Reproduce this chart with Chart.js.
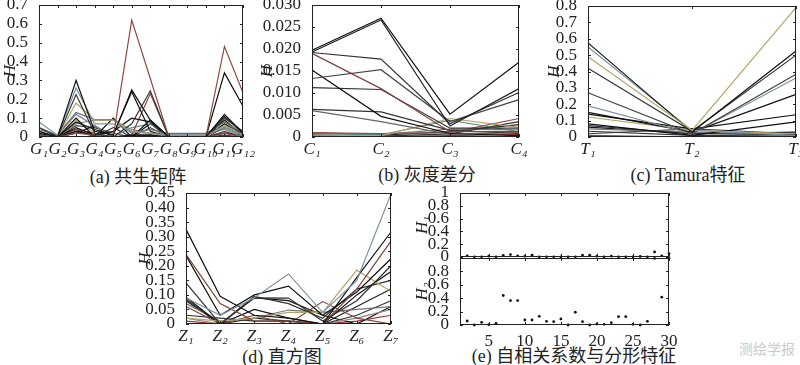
<!DOCTYPE html>
<html><head><meta charset="utf-8">
<script src="https://cdn.jsdelivr.net/npm/chart.js@4.4.1/dist/chart.umd.min.js"></script>
<style>
html,body{margin:0;padding:0;background:#fff}
body{width:800px;height:365px;overflow:hidden;position:relative}
canvas{position:absolute}
.cap{position:absolute;font-size:18px;font-family:"Liberation Serif","Noto Sans CJK SC",serif;color:#222;white-space:nowrap;transform:translate(-50%,-50%)}
.wm{position:absolute;left:739px;top:338px;font-size:14px;font-family:"Noto Sans CJK SC",sans-serif;color:#c9c9c9;white-space:nowrap}
</style></head>
<body>
<div class="cap" style="left:138px;top:175px">(a) 共生矩阵</div>
<div class="cap" style="left:427px;top:173px">(b) 灰度差分</div>
<div class="cap" style="left:688px;top:173px">(c) Tamura特征</div>
<div class="cap" style="left:282px;top:355px">(d) 直方图</div>
<div class="cap" style="left:574px;top:354px">(e) 自相关系数与分形特征</div>
<div class="wm">测绘学报</div>
<script>
// ---------- categories & tick labels ----------
const catsA = ['G₁','G₂','G₃','G₄','G₅','G₆','G₇','G₈','G₉','G₁₀','G₁₁','G₁₂'];
const catsB = ['C₁','C₂','C₃','C₄'];
const catsC = ['T₁','T₂','T₃'];
const catsD = ['Z₁','Z₂','Z₃','Z₄','Z₅','Z₆','Z₇'];
const yTicksA = [0,0.1,0.2,0.3,0.4,0.5,0.6,0.7];
const yLabelsA = ['0','0.1','0.2','0.3','0.4','0.5','0.6','0.7'];
const yTicksB = [0,0.005,0.010,0.015,0.020,0.025,0.030];
const yLabelsB = ['0','0.005','0.010','0.015','0.020','0.025','0.030'];
const yTicksC = [0,0.1,0.2,0.3,0.4,0.5,0.6,0.7,0.8];
const yLabelsC = ['0','0.1','0.2','0.3','0.4','0.5','0.6','0.7','0.8'];
const yTicksD = [0,0.05,0.10,0.15,0.20,0.25,0.30,0.35,0.40,0.45];
const yLabelsD = ['0','0.05','0.10','0.15','0.20','0.25','0.30','0.35','0.40','0.45'];
const yTicksE1 = [0,0.2,0.4,0.6,0.8,1];
const yLabelsE1 = ['0','0.2','0.4','0.6','0.8','1'];
const yTicksE2 = [0,0.2,0.4,0.6,0.8,1];
const yLabelsE2 = ['0','0.2','0.4','0.6','0.8',''];
const xTicksE = [5,10,15,20,25,30];
const xLabelsE = ['5','10','15','20','25','30'];

// ---------- (a) co-occurrence matrix ----------
const seriesA = [
  [0.01,0.0,0.02,0.01,0.0,0.62,0.31,0.0,0.0,0.0,0.48,0.235],
  [0.02,0.0,0.03,0.01,0.0,0.01,0.01,0.0,0.0,0.0,0.34,0.163],
  [0.03,0.0,0.30,0.03,0.01,0.25,0.09,0.0,0.0,0.0,0.12,0.02],
  [0.08,0.01,0.26,0.07,0.07,0.03,0.02,0.01,0.01,0.01,0.05,0.01],
  [0.05,0.0,0.225,0.02,0.0,0.07,0.245,0.0,0.0,0.0,0.10,0.03],
  [0.02,0.0,0.18,0.09,0.09,0.03,0.02,0.0,0.0,0.0,0.06,0.01],
  [0.04,0.01,0.13,0.092,0.092,0.02,0.04,0.018,0.018,0.018,0.08,0.02],
  [0.01,0.0,0.10,0.0,0.10,0.0,0.09,0.0,0.0,0.0,0.09,0.01],
  [0.02,0.0,0.08,0.04,0.01,0.24,0.03,0.0,0.0,0.0,0.05,0.01],
  [0.03,0.0,0.07,0.09,0.09,0.04,0.02,0.02,0.02,0.02,0.04,0.0],
  [0.01,0.0,0.05,0.01,0.03,0.10,0.08,0.0,0.0,0.0,0.11,0.02],
  [0.0,0.0,0.04,0.02,0.0,0.01,0.23,0.0,0.0,0.0,0.02,0.0],
  [0.01,0.0,0.03,0.01,0.0,0.01,0.01,0.0,0.0,0.0,0.01,0.0],
  [0.05,0.01,0.12,0.06,0.0,0.05,0.07,0.01,0.01,0.01,0.06,0.02],
  [0.0,0.0,0.02,0.06,0.0,0.0,0.07,0.0,0.0,0.0,0.07,0.01],
  [0.01,0.0,0.09,0.02,0.0,0.01,0.02,0.01,0.0,0.0,0.06,0.02],
  [0.02,0.01,0.04,0.0,0.05,0.0,0.01,0.0,0.0,0.0,0.02,0.01],
  [0.01,0.0,0.06,0.05,0.02,0.0,0.05,0.0,0.0,0.0,0.03,0.0]
];
const colorsA = ['#8c4a3e','#111','#111','#7c93a3','#333','#b5a46a','#666','#111','#111','#888','#111','#7d4636','#7a2a2a','#6f8a9a','#111','#c8b060','#222','#444'];

// ---------- (b) grey-level difference ----------
const seriesB = [
  [0.0197,0.0270,0.0052,0.0170],
  [0.0193,0.0266,0.0025,0.0110],
  [0.0192,0.0177,0.0030,0.0101],
  [0.0133,0.0153,0.0035,0.0085],
  [0.0190,0.0110,0.0012,0.0012],
  [0.0152,0.0047,0.0008,0.0003],
  [0.0112,0.0108,0.0020,0.0020],
  [0.0063,0.0057,0.0015,0.0008],
  [0.0060,0.0035,0.0006,0.0010],
  [0.0004,0.0003,0.0042,0.0022],
  [0.0008,0.0005,0.0038,0.0012],
  [0.0010,0.0008,0.0010,0.0042],
  [0.0005,0.0002,0.0007,0.0035],
  [0.0003,0.0001,0.0003,0.0006],
  [0.0009,0.0006,0.0018,0.0016],
  [0.0002,0.0004,0.0012,0.0028]
];
const colorsB = ['#111','#222','#333','#444','#7d4636','#111','#333','#333','#666','#b5a46a','#4f7f7a','#8c4a3e','#333','#a03030','#777','#222'];

// ---------- (c) Tamura ----------
const seriesC = [
  [0.49,0.04,0.79],
  [0.575,0.03,0.525],
  [0.55,0.04,0.01],
  [0.42,0.035,0.50],
  [0.27,0.02,0.383],
  [0.19,0.02,0.36],
  [0.15,0.03,0.26],
  [0.14,0.05,0.136],
  [0.122,0.04,0.02],
  [0.08,0.01,0.092],
  [0.07,0.02,0.015],
  [0.05,0.03,0.01],
  [0.035,0.01,0.005],
  [0.01,0.0,0.0],
  [0.02,0.05,0.02],
  [0.06,0.02,0.03]
];
const colorsC = ['#b5a46a','#111','#7c93a3','#333','#444','#7c93a3','#111','#111','#b5a46a','#111','#333','#777','#333','#c03030','#444','#111'];

// ---------- (d) histogram ----------
const seriesD = [
  [0.09,0.03,0.09,0.172,0.04,0.15,0.447],
  [0.325,0.095,0.03,0.02,0.0,0.16,0.316],
  [0.239,0.07,0.01,0.01,0.0,0.12,0.285],
  [0.235,0.03,0.10,0.13,0.03,0.11,0.224],
  [0.141,0.0,0.09,0.089,0.01,0.08,0.20],
  [0.02,0.01,0.02,0.04,0.04,0.185,0.112],
  [0.092,0.0,0.05,0.02,0.0,0.10,0.18],
  [0.085,0.0,0.095,0.07,0.02,0.12,0.15],
  [0.07,0.01,0.02,0.048,0.04,0.05,0.06],
  [0.06,0.0,0.03,0.0,0.077,0.02,0.0],
  [0.03,0.02,0.01,0.01,0.0,0.03,0.08],
  [0.02,0.0,0.0,0.0,0.0,0.02,0.05],
  [0.0,0.0,0.09,0.08,0.03,0.0,0.06],
  [0.01,0.0,0.0,0.0,0.0,0.01,0.03],
  [0.08,0.0,0.02,0.01,0.0,0.06,0.12]
];
const colorsD = ['#7c93a3','#111','#7d4636','#111','#333','#b5a46a','#111','#333','#777','#7d4636','#333','#888','#111','#a03030','#222'];

// ---------- (e) autocorrelation & fractal ----------
const xE = [2,3,4,5,6,7,8,9,10,11,12,13,14,15,16,17,18,19,20,21,22,23,24,25,26,27,28,29,30];
const h1E = [0.015,0,0,0.01,0,0.02,0.035,0.015,0.01,0.025,0,0,0,0,0,0,0.025,0.025,0.01,0,0.01,0,0,0,0.005,0,0.075,0.015,0.05];
const h1ExtraX = [28,30];
const h1ExtraY = [-0.025,-0.025];
const h2E = [0.06,0.0,0.04,0.005,0.025,0.44,0.365,0.365,0.075,0.075,0.13,0.055,0.05,0.09,0.0,0.19,0.05,0.0,0.015,0.01,0.035,0.125,0.125,0.01,0.0,0.055,null,0.415,null];

// ---------- helpers ----------
const SERIF = '"Liberation Serif","DejaVu Serif",serif';
const FS = 17, LH = FS * 1.2;
const TXT = '#222';

const framePlugin = {
  id: 'frame',
  afterDraw(chart) {
    const o = chart.options.plugins.frame || {};
    const {ctx, chartArea: a} = chart;
    ctx.save();
    ctx.strokeStyle = '#222'; ctx.lineWidth = 1;
    ctx.strokeRect(Math.round(a.left) + 0.5, Math.round(a.top) + 0.5, Math.round(a.right - a.left) - 1, Math.round(a.bottom - a.top) - 1);
    ctx.beginPath();
    const xs = chart.scales.x, ys = chart.scales.y;
    (o.xt || []).forEach(v => { const p = Math.round(xs.getPixelForValue(v)) + 0.5;
      ctx.moveTo(p, a.top); ctx.lineTo(p, a.top + 3); ctx.moveTo(p, a.bottom); ctx.lineTo(p, a.bottom - 3); });
    (o.yt || []).forEach(v => { const p = Math.round(ys.getPixelForValue(v)) + 0.5;
      ctx.moveTo(a.left, p); ctx.lineTo(a.left + 3, p); ctx.moveTo(a.right, p); ctx.lineTo(a.right - 3, p); });
    ctx.stroke();
    ctx.restore();
  }
};

function yAxisCfg(ticks, labels, title, min, max) {
  return {
    min, max,
    afterBuildTicks: s => { s.ticks = ticks.map(v => ({value: v})); },
    ticks: {callback: (v, i) => labels[i], font: {family: SERIF, size: FS}, color: TXT, padding: 3, autoSkip: false},
    grid: {display: false}, border: {display: false},
    title: {display: true, text: title, font: {family: SERIF, size: FS, style: 'italic'}, color: TXT, padding: 0}
  };
}
function catAxisCfg() {
  return {
    type: 'category', offset: false,
    ticks: {font: {family: SERIF, size: FS, style: 'italic'}, color: TXT, padding: -6, autoSkip: false, maxRotation: 0, minRotation: 0},
    grid: {display: false}, border: {display: false}
  };
}
function lineSets(series, colors) {
  return series.map((d, i) => ({data: d, borderColor: colors[i], borderWidth: 1.2, pointRadius: 0, fill: false, tension: 0}));
}

function makePanel(cfg) {
  const {box, titleX, padT = 14, padR = 24, padB = 40, xAxis, yAxis, data, frame, type = 'line'} = cfg;
  const cl = Math.round(titleX - LH / 2);
  const c = document.createElement('canvas');
  const W = box.r - cl + padR, H = box.b - box.t + padT + padB;
  c.width = W; c.height = H;
  c.style.left = cl + 'px'; c.style.top = (box.t - padT) + 'px';
  c.style.width = W + 'px'; c.style.height = H + 'px';
  document.body.appendChild(c);
  const yW = box.l - cl;
  yAxis.afterFit = s => { s.width = yW; };
  const xShown = xAxis.display !== false;
  if (xShown) xAxis.afterFit = s => { s.height = padB; };
  return new Chart(c, {
    type, data,
    options: {
      responsive: false, animation: false, events: [],
      layout: {padding: {top: padT, right: padR, left: 0, bottom: xShown ? 0 : padB}},
      plugins: {legend: {display: false}, tooltip: {enabled: false}, frame},
      scales: {x: xAxis, y: yAxis}
    },
    plugins: [framePlugin]
  });
}

// (a)
makePanel({box: {l: 39, t: 5, r: 243, b: 137}, titleX: 10,
  xAxis: catAxisCfg(), yAxis: yAxisCfg(yTicksA, yLabelsA, 'H', 0, 0.7),
  data: {labels: catsA, datasets: lineSets(seriesA, colorsA)},
  frame: {xt: catsA.map((_, i) => i), yt: yTicksA}});
// (b)
makePanel({box: {l: 312, t: 5, r: 519, b: 137}, titleX: 267,
  xAxis: catAxisCfg(), yAxis: yAxisCfg(yTicksB, yLabelsB, 'H', 0, 0.030),
  data: {labels: catsB, datasets: lineSets(seriesB, colorsB)},
  frame: {xt: catsB.map((_, i) => i), yt: yTicksB}});
// (c)
makePanel({box: {l: 588, t: 6, r: 796, b: 137}, titleX: 554,
  xAxis: catAxisCfg(), yAxis: yAxisCfg(yTicksC, yLabelsC, 'H', 0, 0.8),
  data: {labels: catsC, datasets: lineSets(seriesC, colorsC)},
  frame: {xt: catsC.map((_, i) => i), yt: yTicksC}});
// (d)
makePanel({box: {l: 186, t: 193, r: 391, b: 324}, titleX: 145,
  xAxis: catAxisCfg(), yAxis: yAxisCfg(yTicksD, yLabelsD, 'H', 0, 0.45),
  data: {labels: catsD, datasets: lineSets(seriesD, colorsD)},
  frame: {xt: catsD.map((_, i) => i), yt: yTicksD}});

// (e)
function eX(showLabels) {
  return {
    type: 'linear', min: 1, max: 30, display: showLabels,
    afterBuildTicks: s => { s.ticks = xTicksE.map(v => ({value: v})); },
    ticks: {callback: (v, i) => xLabelsE[i], font: {family: SERIF, size: FS}, color: TXT, padding: -2, autoSkip: false, maxRotation: 0},
    grid: {display: false}, border: {display: false}
  };
}
const dotStyle = {pointRadius: 1.4, pointBackgroundColor: '#111', pointBorderWidth: 0, showLine: false};
makePanel({type: 'scatter', box: {l: 460, t: 193, r: 669, b: 258}, titleX: 422, padB: 12,
  xAxis: eX(false), yAxis: yAxisCfg(yTicksE1, yLabelsE1, 'H₁', 0, 1),
  data: {datasets: [
    Object.assign({data: xE.map((x, i) => ({x, y: h1E[i]})), clip: false}, dotStyle),
    Object.assign({data: h1ExtraX.map((x, i) => ({x, y: h1ExtraY[i]})), clip: false}, dotStyle)
  ]},
  frame: {xt: xTicksE, yt: yTicksE1}});
makePanel({type: 'scatter', box: {l: 460, t: 258, r: 669, b: 325}, titleX: 422,
  xAxis: eX(true), yAxis: yAxisCfg(yTicksE2, yLabelsE2, 'H₂', 0, 1),
  data: {datasets: [
    Object.assign({data: xE.map((x, i) => ({x, y: h2E[i]})).filter(p => p.y !== null), clip: false}, dotStyle)
  ]},
  frame: {xt: xTicksE, yt: yTicksE2}});
</script>
</body></html>
